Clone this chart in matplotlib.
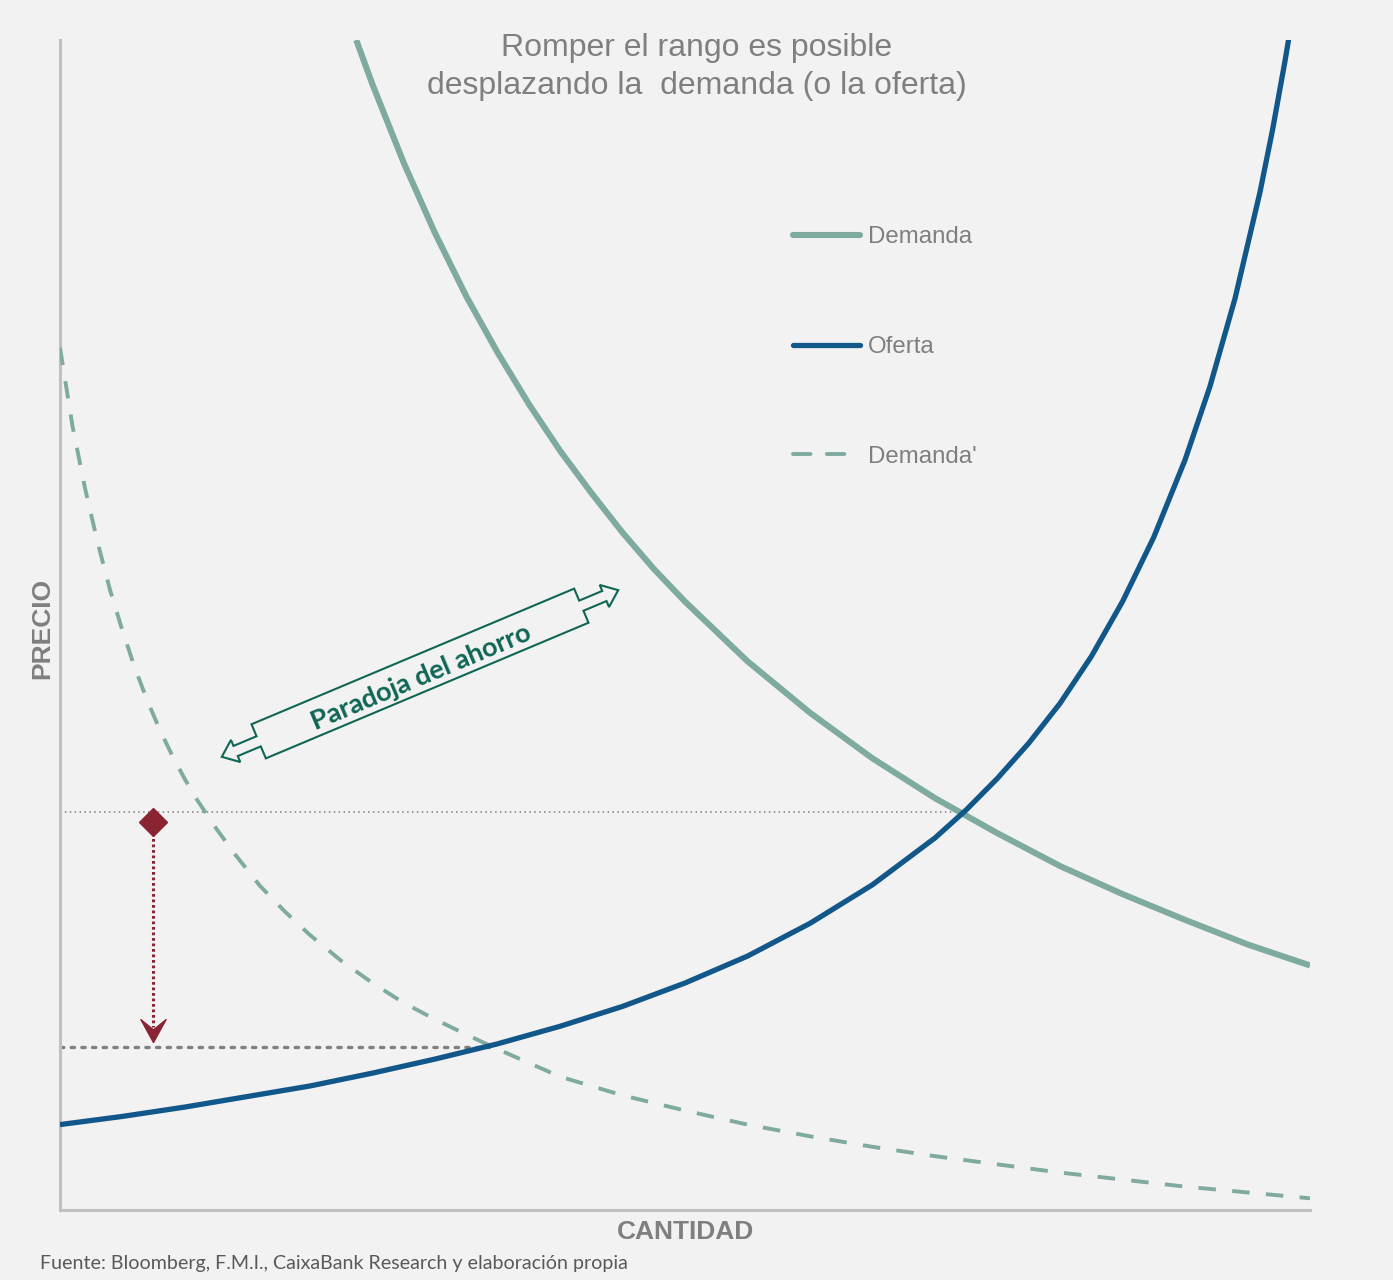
import matplotlib
matplotlib.use("Agg")
import matplotlib.pyplot as plt
from matplotlib.patches import Polygon
from matplotlib.path import Path
from matplotlib.transforms import Affine2D

# ---------------- data (quantity 0-100, price 0-100) ----------------
demand_q = [23.7, 25, 27.5, 30, 32.5, 35, 37.5, 40, 42.5, 45, 47.5, 50, 55, 60,
            65, 70, 75, 80, 85, 90, 95, 100]
demand_p = [100.0, 96.2, 89.5, 83.5, 78.1, 73.3, 68.9, 64.9, 61.3, 57.9, 54.8,
            52.0, 46.9, 42.5, 38.6, 35.2, 32.2, 29.4, 27.0, 24.8, 22.7, 20.9]

supply_q = [0, 5, 10, 15, 20, 25, 30, 35, 40, 45, 50, 55, 60, 65, 70, 72.5, 75,
            77.5, 80, 82.5, 85, 87.5, 90, 92, 94, 96, 97, 98, 98.5]
supply_p = [7.3, 8.0, 8.8, 9.7, 10.6, 11.7, 12.9, 14.2, 15.7, 17.4, 19.4, 21.7,
            24.5, 27.8, 31.8, 34.2, 36.9, 39.9, 43.3, 47.3, 52.0, 57.5, 64.1,
            70.4, 77.9, 87.0, 92.3, 98.2, 101.4]

demand2_q = [0, 1, 2, 3, 4, 5, 6, 7, 8, 9, 10, 11, 12.5, 14, 16, 18, 20, 22.5,
             25, 27.5, 30, 32.5, 35, 40, 45, 50, 55, 60, 65, 70, 75, 80, 85, 90,
             95, 100]
demand2_p = [73.7, 67.0, 61.7, 57.1, 53.0, 49.5, 46.3, 43.5, 41.0, 38.8, 36.8,
             35.0, 32.6, 30.4, 27.7, 25.5, 23.5, 21.3, 19.4, 17.7, 16.3, 15.0,
             13.75, 11.4, 9.8, 8.5, 7.3, 6.3, 5.4, 4.6, 3.9, 3.2, 2.6, 2.0, 1.5,
             1.0]

series_labels = ["Demanda", "Oferta", "Demanda'"]

eq_high_q, eq_high_p = 71.6, 34.0     # original equilibrium
eq_low_q, eq_low_p = 34.3, 13.9       # equilibrium after the shift
marker_q, marker_p = 7.4, 33.2        # diamond start of the fall
arrow_end_p = 14.4

title_text = "Romper el rango es posible\ndesplazando la  demanda (o la oferta)"
xlabel_text = "CANTIDAD"
ylabel_text = "PRECIO"
callout_text = "Paradoja del ahorro"
source_text = "Fuente: Bloomberg, F.M.I., CaixaBank Research y elaboración propia"

# ---------------- style ----------------
BG = "#f2f2f2"
C_DEM = "#7eaaa0"
C_SUP = "#12578a"
C_RED = "#8a2433"
C_GREEN = "#0f6654"
C_GRAY = "#7f7f7f"

W, H = 1393, 1280
fig = plt.figure(figsize=(W / 100, H / 100), dpi=100, facecolor=BG)
ax = fig.add_axes([60 / W, 70 / H, 1250 / W, 1170 / H])
ax.set_facecolor(BG)
ax.set_xlim(0, 100)
ax.set_ylim(0, 100)
for s in ["top", "right"]:
    ax.spines[s].set_visible(False)
for s in ["left", "bottom"]:
    ax.spines[s].set_color("#c0c0c0")
    ax.spines[s].set_linewidth(2.2)
ax.set_xticks([])
ax.set_yticks([])

# reference dotted lines
ax.plot([0, eq_high_q], [eq_high_p, eq_high_p], color=C_GRAY, lw=1.1,
        linestyle=(0, (1, 2.2)), zorder=2)
ax.plot([0, eq_low_q], [eq_low_p, eq_low_p], color=C_GRAY, lw=2.4,
        linestyle=(0, (1, 2.2)), dash_capstyle="round", zorder=2)

# curves
l1, = ax.plot(demand_q, demand_p, color=C_DEM, lw=4.4, solid_capstyle="butt",
              solid_joinstyle="round", label=series_labels[0], zorder=3)
l2, = ax.plot(supply_q, supply_p, color=C_SUP, lw=3.8, solid_capstyle="butt",
              solid_joinstyle="round", label=series_labels[1], zorder=4)
l3, = ax.plot(demand2_q, demand2_p, color=C_DEM, lw=2.8, linestyle=(0, (4.5, 4.2)),
              label=series_labels[2], zorder=3)

# diamond and vertical dotted arrow
ax.plot([marker_q, marker_q], [marker_p - 1.0, arrow_end_p + 1.2], color=C_RED,
        lw=2.2, linestyle=(0, (0.9, 0.9)), zorder=5)
ax.plot([marker_q], [marker_p], marker="D", color=C_RED, markersize=14,
        linestyle="none", zorder=6)
head = Path([(0, 0), (-0.55, 1.0), (0, 0.55), (0.55, 1.0), (0, 0)],
            [Path.MOVETO, Path.LINETO, Path.LINETO, Path.LINETO, Path.CLOSEPOLY])
ax.plot([marker_q], [arrow_end_p], marker=head, color=C_RED, markersize=33,
        linestyle="none", zorder=6)

# legend
leg = ax.legend(handles=[l1, l2, l3], loc="upper left",
                bbox_to_anchor=(793 / W, 1 - 226 / H), bbox_transform=fig.transFigure,
                frameon=False, labelcolor=C_GRAY, handlelength=2.8,
                handletextpad=0.33, labelspacing=3.66, borderpad=0, borderaxespad=0,
                prop={"family": "Liberation Sans", "size": 17.3})
for ln in leg.get_lines():
    ln.set_solid_capstyle("round")
    ln.set_dash_capstyle("round")

# callout double arrow "Paradoja del ahorro"
ang = 22.8
cx, cy = 420, H - 673.5
hl, hh, sw, bw, bu, tu = 175, 18.5, 5.5, 12, 200, 215
pts = [(-hl, hh), (hl, hh), (hl, sw), (bu, sw), (bu, bw), (tu, 0), (bu, -bw),
       (bu, -sw), (hl, -sw), (hl, -hh), (-hl, -hh), (-hl, -sw), (-bu, -sw),
       (-bu, -bw), (-tu, 0), (-bu, bw), (-bu, sw), (-hl, sw)]
tr = Affine2D().rotate_deg(ang).translate(cx, cy).scale(1 / 100) + fig.dpi_scale_trans
poly = Polygon(pts, closed=True, fill=False, edgecolor=C_GREEN, lw=1.5,
               transform=tr, zorder=7)
fig.add_artist(poly)
fig.text(421 / W, 1 - 677 / H, callout_text, rotation=ang, rotation_mode="anchor",
         ha="center", va="center", color=C_GREEN, fontsize=19.5, fontweight="bold",
         family="Lato", zorder=8)

# texts
fig.text(697 / W, 1 - 67 / H, title_text, ha="center", va="center",
         color=C_GRAY, fontsize=23, family="Liberation Sans", linespacing=1.32)
fig.text(685 / W, 1 - 1232 / H, xlabel_text, ha="center", va="center",
         color=C_GRAY, fontsize=19, fontweight="bold", family="Liberation Sans")
fig.text(42 / W, 1 - 628 / H, ylabel_text, ha="center", va="center", rotation=90,
         color=C_GRAY, fontsize=19, fontweight="bold", family="Liberation Sans")
fig.text(40 / W, 1 - 1263 / H, source_text, ha="left", va="center",
         color="#595959", fontsize=14.1, family="Lato")

fig.savefig("out.png", dpi=100, facecolor=BG)
